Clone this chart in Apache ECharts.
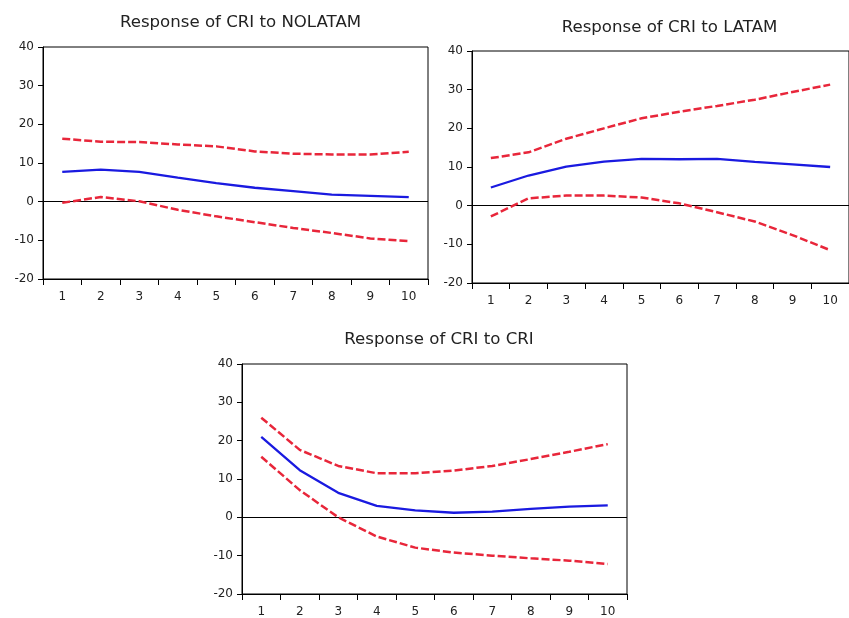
<!DOCTYPE html>
<html>
<head>
<meta charset="utf-8">
<script src="https://cdn.jsdelivr.net/npm/echarts@6/dist/echarts.min.js"></script>
<style>html,body{margin:0;padding:0;background:#fff;}#c{width:849px;height:618px;}</style>
</head>
<body>
<div id="c"></div>
<script>
var periods = ['1','2','3','4','5','6','7','8','9','10'];
var yTicks = [-20, -10, 0, 10, 20, 30, 40];

var titles = ['Response of CRI to NOLATAM', 'Response of CRI to LATAM', 'Response of CRI to CRI'];

var nolatamResp  = [7.7, 8.3, 7.7, 6.2, 4.8, 3.6, 2.7, 1.8, 1.5, 1.2];
var nolatamUpper = [16.3, 15.5, 15.4, 14.8, 14.3, 13.0, 12.4, 12.2, 12.2, 12.9];
var nolatamLower = [-0.3, 1.2, 0.1, -2.1, -3.8, -5.3, -6.8, -8.1, -9.5, -10.2];

var latamResp  = [4.7, 7.8, 10.1, 11.4, 12.1, 12.0, 12.1, 11.3, 10.7, 10.0];
var latamUpper = [12.3, 13.8, 17.3, 20.0, 22.6, 24.3, 25.8, 27.4, 29.4, 31.3];
var latamLower = [-2.8, 1.9, 2.6, 2.6, 2.1, 0.6, -1.7, -4.1, -7.6, -11.5];

var criResp  = [21.0, 12.3, 6.4, 3.0, 1.8, 1.2, 1.5, 2.2, 2.8, 3.1];
var criUpper = [26.0, 17.6, 13.4, 11.5, 11.5, 12.2, 13.4, 15.2, 17.1, 19.1];
var criLower = [15.8, 7.1, 0.0, -5.0, -7.9, -9.2, -10.0, -10.7, -11.3, -12.2];

var panels = [
  {resp: nolatamResp, up: nolatamUpper, lo: nolatamLower},
  {resp: latamResp, up: latamUpper, lo: latamLower},
  {resp: criResp, up: criUpper, lo: criLower}
];

var FONT = '"DejaVu Sans", "Liberation Sans", Arial, sans-serif';
var grids = [
  {left: 43, top: 47, width: 385, height: 232},
  {left: 472, top: 51, width: 385, height: 232},
  {left: 242, top: 364, width: 385, height: 230}
];
var titlePos = [
  {left: 235.5, top: 9},
  {left: 664.5, top: 14},
  {left: 434, top: 326}
];

var option = {
  animation: false,
  backgroundColor: '#fff',
  title: titles.map(function (t, i) {
    return {
      text: t, left: titlePos[i].left, top: titlePos[i].top, textAlign: 'center',
      textStyle: {fontFamily: FONT, fontSize: 16.6, fontWeight: 'normal', color: '#222'}
    };
  }),
  grid: grids.map(function (g) {
    return {left: g.left, top: g.top, width: g.width, height: g.height,
      show: true, borderColor: '#000', borderWidth: 1, backgroundColor: 'transparent', containLabel: false};
  }),
  xAxis: grids.map(function (g, i) {
    return {
      type: 'category', gridIndex: i, data: periods, boundaryGap: true,
      axisLine: {show: true, onZero: false, lineStyle: {color: '#000', width: 1}},
      axisTick: {show: true, inside: false, length: 6, lineStyle: {color: '#000'}},
      axisLabel: {fontFamily: FONT, fontSize: 12, color: '#222', margin: 12, interval: 0},
      splitLine: {show: false}
    };
  }),
  yAxis: grids.map(function (g, i) {
    return {
      type: 'value', gridIndex: i, min: yTicks[0], max: yTicks[yTicks.length - 1], interval: 10,
      axisLine: {show: true, onZero: false, lineStyle: {color: '#000', width: 1}},
      axisTick: {show: true, inside: false, length: 5, lineStyle: {color: '#000'}},
      axisLabel: {fontFamily: FONT, fontSize: 12, color: '#222', margin: 9},
      splitLine: {show: false}
    };
  }),
  series: []
};

panels.forEach(function (p, i) {
  option.series.push({
    type: 'line', xAxisIndex: i, yAxisIndex: i, data: p.up, symbol: 'none',
    lineStyle: {color: '#e8263a', width: 2.5, type: [8, 3]}, z: 3
  });
  option.series.push({
    type: 'line', xAxisIndex: i, yAxisIndex: i, data: p.lo, symbol: 'none',
    lineStyle: {color: '#e8263a', width: 2.5, type: [8, 3]}, z: 3
  });
  option.series.push({
    type: 'line', xAxisIndex: i, yAxisIndex: i, data: p.resp, symbol: 'none',
    lineStyle: {color: '#1a1ae0', width: 2.3}, z: 4,
    markLine: {
      silent: true, symbol: 'none', label: {show: false},
      lineStyle: {color: '#000', width: 1, type: 'solid'},
      data: [{yAxis: 0}], z: 2
    }
  });
});

var chart = echarts.init(document.getElementById('c'), null, {renderer: 'canvas'});
chart.setOption(option);
</script>
</body>
</html>
